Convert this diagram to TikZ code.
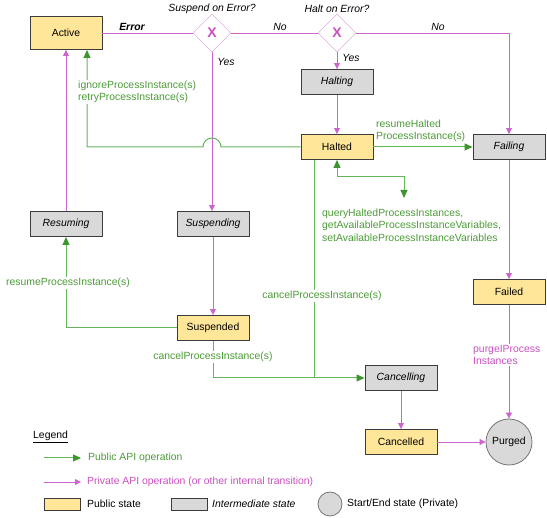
\documentclass[tikz,border=0pt]{standalone}
\usepackage{fontspec}
\setmainfont{Liberation Sans}
\usetikzlibrary{arrows.meta,shapes.geometric}
\definecolor{pinkline}{RGB}{204,102,204}
\definecolor{pinktext}{RGB}{200,80,190}
\definecolor{pinkdia}{RGB}{215,150,215}
\definecolor{greenline}{RGB}{100,180,90}
\definecolor{greentip}{RGB}{60,150,45}
\definecolor{greentext}{RGB}{75,155,55}
\definecolor{pubfill}{RGB}{255,230,153}
\definecolor{midfill}{RGB}{217,217,217}
\definecolor{boxline}{RGB}{60,60,60}
\newcommand{\txtsize}{\fontsize{10.4}{12.5}\selectfont}
\tikzset{
  gtip/.tip={Triangle[width=7pt,length=8pt,color=greentip]},
  ptip/.tip={Triangle[width=6pt,length=6pt]},
  pubstate/.style={draw=boxline, fill=pubfill, line width=0.9pt, minimum width=72pt, minimum height=25pt, inner sep=0pt, font=\txtsize},
  midstate/.style={pubstate, fill=midfill, font=\txtsize\itshape},
  endstate/.style={circle, draw=boxline!70, fill=midfill, line width=0.8pt, minimum size=46pt, inner sep=0pt, font=\txtsize},
  gate/.style={diamond, aspect=1, draw=pinkdia, fill=white, minimum size=38pt, inner sep=0pt, text=pinktext, font=\fontsize{14}{14}\selectfont\bfseries},
  priv/.style={draw=pinkline, line width=0.8pt, -ptip},
  privline/.style={draw=pinkline, line width=0.8pt},
  pub/.style={draw=greenline, line width=1pt, -gtip},
  publine/.style={draw=greenline, line width=1pt},
  publbl/.style={text=greentext, fill=white, inner sep=1pt, align=left, font=\txtsize},
  privlbl/.style={text=pinktext, fill=white, inner sep=1pt, align=left, font=\txtsize},
  qlbl/.style={font=\txtsize\itshape, inner sep=1pt}
}
\begin{document}
\begin{tikzpicture}[x=1pt, y=-1pt]

    % 画布大小
    \useasboundingbox (0,0) rectangle (547,518);

    % 状态框
    \node[pubstate, minimum height=33pt] (act) at (66,33) {Active};
    \node[gate] (dsus) at (212,33) {X};
    \node[gate] (dhalt) at (337,33) {X};
    \node[midstate] (halting) at (337,82) {Halting};
    \node[pubstate] (halted) at (337,147) {Halted};
    \node[midstate] (failing) at (509,147) {Failing};
    \node[midstate] (resuming) at (66,224) {Resuming};
    \node[midstate] (suspending) at (213,224) {Suspending};
    \node[pubstate] (suspended) at (213,328) {Suspended};
    \node[pubstate] (failed) at (509,292) {Failed};
    \node[midstate] (cancelling) at (401,378) {Cancelling};
    \node[pubstate] (cancelled) at (401,442) {Cancelled};
    \node[endstate] (purged) at (509,442) {Purged};

    % 判断的文字
    \node[qlbl] (qsus) at (212,9) {Suspend on Error?};
    \node[qlbl] (qhalt) at (337,9) {Halt on Error?};
    \node[qlbl, font=\txtsize\bfseries\itshape] (lerr) at (132,27) {Error};
    \node[qlbl] (lno1) at (280,27) {No};
    \node[qlbl] (lno2) at (438,27) {No};
    \node[qlbl] (lyes1) at (226,62) {Yes};
    \node[qlbl] (lyes2) at (351,58) {Yes};

    % 私有的转换 (粉色)
    \draw[privline] (act.east) -- (dsus.west);
    \draw[privline] (dsus.east) -- (dhalt.west);
    \draw[priv] (dhalt.east) -| (failing.north);
    \draw[priv] (dsus.south) -- (suspending.north -| dsus.south);
    \draw[priv] (dhalt.south) -- (halting.north);
    \draw[priv] (halting.south) -- (halted.north);
    \draw[priv] (suspending.south) -- (suspended.north);
    \draw[priv] (resuming.north) -- (act.south);
    \draw[priv] (failing.south) -- (failed.north);
    \draw[priv] (failed.south) -- (purged.north);
    \draw[priv] (cancelling.south) -- (cancelled.north);
    \draw[priv] (cancelled.east) -- (purged.west);

    % 公共的操作 (绿色)
    \draw[pub] (halted.west) -- ([xshift=9pt]dsus.south |- halted.west)
        arc[start angle=0, end angle=180, radius=9pt]
        -- ([xshift=21pt]act.south |- halted.west) -- ([xshift=21pt]act.south);
    \draw[pub] (halted.east) -- (failing.west);
    \draw[pub] (suspended.west) -| (resuming.south);
    \draw[pub] (suspended.south) |- (cancelling.west);
    \draw[publine] ([xshift=-23pt]halted.south) -- ([xshift=-23pt]halted.south |- cancelling.west);
    \draw[publine, gtip-gtip] (halted.south) |- (404,177) -- (404,198);

    % 操作的文字
    \node[publbl, anchor=west] (lign) at (77,92) {ignoreProcessInstance(s)\\retryProcessInstance(s)};
    \node[publbl, anchor=west] (lres) at (375,131) {resumeHalted\\ProcessInstance(s)};
    \node[publbl, anchor=west, fill=none] (lqry) at (321,225) {queryHaltedProcessInstances,\\getAvailableProcessInstanceVariables,\\setAvailableProcessInstanceVariables};
    \node[publbl] (lrsm) at (68,283) {resumeProcessInstance(s)};
    \node[publbl] (lcan1) at (322,296) {cancelProcessInstance(s)};
    \node[publbl] (lcan2) at (213,357) {cancelProcessInstance(s)};
    \node[privlbl, anchor=west] (lprg) at (472,355) {purgeIProcess\\Instances};

    % 图例
    \node[anchor=west, inner sep=0pt, font=\txtsize] (leg) at (33,437) {\underline{Legend}};
    \coordinate (pa) at (44,458);
    \coordinate (pb) at (81,458);
    \draw[pub] (pa) -- (pb);
    \node[anchor=west, text=greentext, inner sep=0pt, font=\txtsize] (lpub) at (88,458) {Public API operation};
    \coordinate (qa) at (44,482);
    \coordinate (qb) at (81,482);
    \draw[priv] (qa) -- (qb);
    \node[anchor=west, text=pinktext, inner sep=0pt, font=\txtsize] (lpriv) at (87,482) {Private API operation (or other internal transition)};
    \node[pubstate, minimum width=36pt, minimum height=12pt] (kpub) at (62,504) {};
    \node[anchor=west, inner sep=0pt, font=\txtsize] (lkpub) at (87,504) {Public state};
    \node[midstate, minimum width=36pt, minimum height=12pt] (kmid) at (189,504) {};
    \node[anchor=west, inner sep=0pt, font=\txtsize\itshape] (lkmid) at (212,504) {Intermediate state};
    \node[endstate, minimum size=24pt] (kend) at (330,504) {};
    \node[anchor=west, inner sep=0pt, font=\txtsize] (lkend) at (347,504) {Start/End state (Private)};

\end{tikzpicture}
\end{document}
